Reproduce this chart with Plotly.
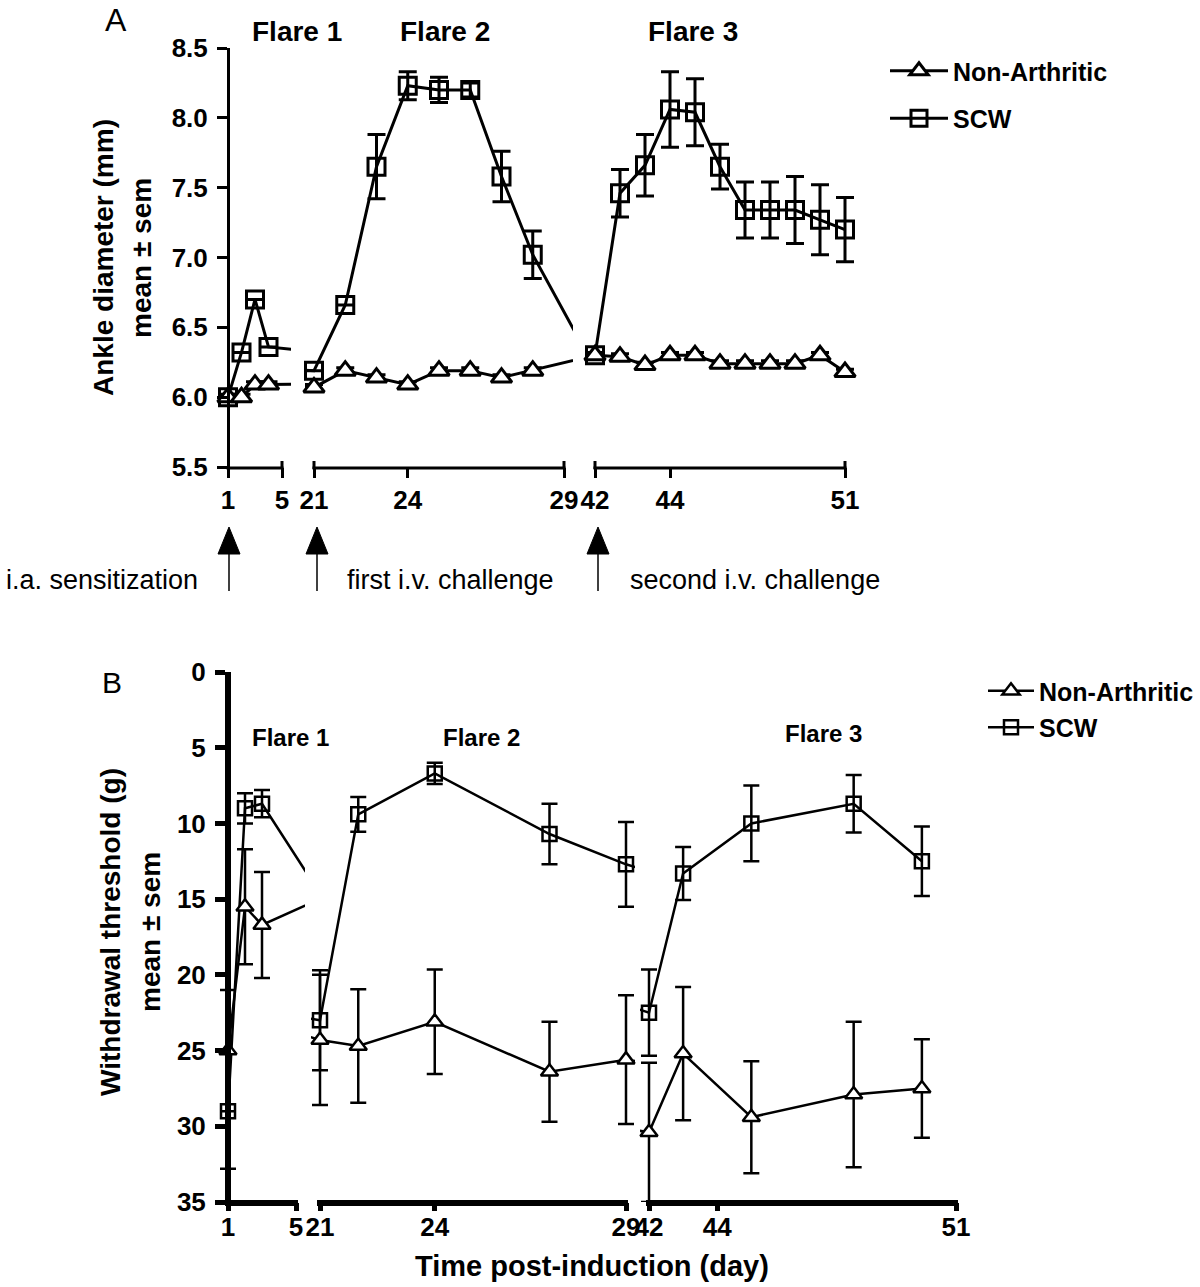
import plotly.graph_objects as go

W, H = 1200, 1287
FONT = "Liberation Sans, Arial, Helvetica, sans-serif"

# ---------------- Panel A: ankle diameter (mm) ----------------
# (includes points measured inside the axis breaks, which are hidden by the breaks)
a_na_days = [1, 2, 3, 4, 10, 21, 22, 23, 24, 25, 26, 27, 28, 30,
             41, 42, 43, 44, 45, 46, 47, 48, 49, 50, 51]
a_na_vals = [6.0, 6.0, 6.09, 6.09, 6.1, 6.07, 6.19, 6.14, 6.09, 6.19, 6.19, 6.14, 6.19, 6.3,
             6.3, 6.29, 6.23, 6.3, 6.3, 6.24, 6.24, 6.24, 6.24, 6.3, 6.18]
a_na_err = [0.02] * 25

a_scw_days = [1, 2, 3, 4, 10, 21, 22, 23, 24, 25, 26, 27, 28, 30,
              41, 42, 43, 44, 45, 46, 47, 48, 49, 50, 51]
a_scw_vals = [6.0, 6.32, 6.7, 6.36, 6.3, 6.19, 6.66, 7.65, 8.23, 8.2, 8.2, 7.58, 7.02, 6.2,
              6.3, 7.46, 7.66, 8.06, 8.04, 7.65, 7.34, 7.34, 7.34, 7.27, 7.2]
a_scw_err = [0, 0, 0, 0, 0, 0, 0, 0.23, 0.1, 0.09, 0.05, 0.18, 0.17, 0,
             0, 0.17, 0.22, 0.27, 0.24, 0.16, 0.2, 0.2, 0.24, 0.25, 0.23]

a_segments = [(1, 5), (21, 29), (41, 51)]
a_tickvals = [[1, 5], [21, 24, 29], [41, 44, 51]]
a_ticktext = [["1", "5"], ["21", "24", "29"], ["42", "44", "51"]]
a_yticks = [5.5, 6.0, 6.5, 7.0, 7.5, 8.0, 8.5]

# ---------------- Panel B: withdrawal threshold (g) ----------------
b_na_days = [1, 2, 3, 8, 21, 22, 24, 27, 29, 42, 43, 45, 48, 50]
b_na_vals = [25.0, 15.5, 16.7, 14.2, 24.3, 24.7, 23.1, 26.4, 25.6, 30.4, 25.2, 29.4, 27.9, 27.5]
b_na_err = [4.0, 3.8, 3.5, 0, 4.3, 3.75, 3.45, 3.3, 4.25, 4.6, 4.4, 3.7, 4.8, 3.25]

b_scw_days = [1, 2, 3, 8, 21, 22, 24, 27, 29, 42, 43, 45, 48, 50]
b_scw_vals = [29.0, 9.0, 8.7, 17.4, 23.0, 9.4, 6.7, 10.7, 12.7, 22.5, 13.3, 10.0, 8.7, 12.5]
b_scw_err = [3.8, 1.0, 0.9, 0, 3.3, 1.15, 0.7, 2.0, 2.8, 2.85, 1.75, 2.5, 1.9, 2.3]

b_segments = [(1, 5), (21, 29), (42, 51)]
b_tickvals = [[1, 5], [21, 24, 29], [42, 44, 51]]
b_ticktext = [["1", "5"], ["21", "24", "29"], ["42", "44", "51"]]
b_yticks = [0, 5, 10, 15, 20, 25, 30, 35]

# ---------------- layout geometry (pixels) ----------------
def px(x):
    return x / W

def py(y):
    return 1 - y / H

A_X = [(228, 282), (314, 564), (595, 845)]
A_Y = (48, 467)
B_X = [(228, 296), (320, 626), (649, 956)]
B_Y = (672, 1202)
PAD = 9  # clipping margin beyond each axis segment

fig = go.Figure()


def masked(days, errs, lo, hi):
    return [e if lo <= d <= hi else 0 for d, e in zip(days, errs)]


def add_panel(series, segments, xaxes, yaxis, lw, legend):
    for k, (lo, hi) in enumerate(segments):
        for s in series:
            fig.add_trace(go.Scatter(
                x=s["days"], y=s["vals"], name=s["name"],
                mode="lines+markers",
                xaxis=xaxes[k], yaxis=yaxis,
                line=dict(color="black", width=lw),
                marker=dict(symbol=s["symbol"], size=s["size"], color=s["fill"],
                            line=dict(color="black", width=lw)),
                error_y=dict(type="data", array=masked(s["days"], s["err"], lo, hi),
                             visible=True, color="black", thickness=lw, width=s["cap"]),
                cliponaxis=False,
                showlegend=(k == 0), legend=legend, legendgroup=legend + s["name"],
                legendrank=s["rank"],
            ))


add_panel([
    dict(days=a_scw_days, vals=a_scw_vals, err=a_scw_err, name="SCW", symbol="square",
         size=17, fill="rgba(0,0,0,0)", cap=9, rank=2),
    dict(days=a_na_days, vals=a_na_vals, err=a_na_err, name="Non-Arthritic",
         symbol="triangle-up", size=18, fill="white", cap=9, rank=1),
], a_segments, ["x", "x2", "x3"], "y", 3, "legend")

add_panel([
    dict(days=b_scw_days, vals=b_scw_vals, err=b_scw_err, name="SCW", symbol="square",
         size=14, fill="rgba(0,0,0,0)", cap=8, rank=2),
    dict(days=b_na_days, vals=b_na_vals, err=b_na_err, name="Non-Arthritic",
         symbol="triangle-up", size=15, fill="white", cap=8, rank=1),
], b_segments, ["x4", "x5", "x6"], "y2", 2.5, "legend2")

tickfont = dict(family=FONT, size=26, color="black", weight="bold")

layout = dict(
    width=W, height=H, margin=dict(l=0, r=0, t=0, b=0, autoexpand=False),
    paper_bgcolor="white", plot_bgcolor="rgba(0,0,0,0)",
    font=dict(family=FONT, color="black"),
)


def seg_axis(pix, rng, anchor, tlen, twidth, tv, tt, standoff):
    scale = (pix[1] - pix[0]) / (rng[1] - rng[0])
    return dict(
        domain=[px(pix[0] - PAD), px(pix[1] + PAD)],
        range=[rng[0] - PAD / scale, rng[1] + PAD / scale], anchor=anchor,
        showline=False, showgrid=False, zeroline=False,
        ticks="outside", ticklen=tlen, tickwidth=twidth, tickcolor="black",
        tickvals=tv, ticktext=tt, tickfont=tickfont, ticklabelstandoff=standoff,
    )


xnames = ["xaxis", "xaxis2", "xaxis3", "xaxis4", "xaxis5", "xaxis6"]
for i in range(3):
    layout[xnames[i]] = seg_axis(A_X[i], a_segments[i], "y", 10, 3,
                                 a_tickvals[i], a_ticktext[i], 0)
    layout[xnames[i + 3]] = seg_axis(B_X[i], b_segments[i], "y2", 8, 5,
                                     b_tickvals[i], b_ticktext[i], -6)

layout["yaxis"] = dict(
    domain=[py(A_Y[1]), py(A_Y[0])], range=[5.5, 8.5], anchor="free", position=px(A_X[0][0]),
    showline=True, linewidth=3, linecolor="black", showgrid=False, zeroline=False,
    ticks="outside", ticklen=10, tickwidth=3, tickcolor="black",
    tickvals=a_yticks, tickformat=".1f", tickfont=tickfont, ticklabelstandoff=4,
)
layout["yaxis2"] = dict(
    domain=[py(B_Y[1]), py(B_Y[0])], range=[35, 0], anchor="free", position=px(B_X[0][0]),
    showline=True, linewidth=6, linecolor="black", showgrid=False, zeroline=False,
    ticks="outside", ticklen=10, tickwidth=5, tickcolor="black",
    tickvals=b_yticks, tickfont=tickfont, ticklabelstandoff=4,
)

legfont = dict(family=FONT, size=25, color="black", weight="bold")
layout["legend"] = dict(x=px(885), y=py(48), xanchor="left", yanchor="top",
                        font=legfont, bgcolor="rgba(0,0,0,0)", tracegroupgap=12,
                        traceorder="grouped", itemwidth=58)
layout["legend2"] = dict(x=px(983), y=py(668), xanchor="left", yanchor="top",
                         font=legfont, bgcolor="rgba(0,0,0,0)", tracegroupgap=1,
                         traceorder="grouped", itemwidth=46)

fig.update_layout(**layout)

# ---------------- broken x-axis lines ----------------
for (x0, x1) in A_X:
    fig.add_shape(type="line", xref="paper", yref="paper",
                  x0=px(x0 - 1.5), x1=px(x1 + 1.5), y0=py(A_Y[1] + 1), y1=py(A_Y[1] + 1),
                  line=dict(color="black", width=3))
    for xe in (x0, x1):
        if xe != A_X[0][0]:
            fig.add_shape(type="line", xref="paper", yref="paper",
                          x0=px(xe), x1=px(xe), y0=py(A_Y[1] - 6), y1=py(A_Y[1] + 2),
                          line=dict(color="black", width=3))
for (x0, x1) in B_X:
    fig.add_shape(type="line", xref="paper", yref="paper",
                  x0=px(x0 - 3), x1=px(x1 + 2), y0=py(B_Y[1] + 1), y1=py(B_Y[1] + 1),
                  line=dict(color="black", width=6))

# ---------------- text annotations ----------------
def text(s, x, y, size, bold=True, angle=0, xanchor="center"):
    fig.add_annotation(
        text=f"<b>{s}</b>" if bold else s, x=px(x), y=py(y), xref="paper", yref="paper",
        showarrow=False, textangle=angle, xanchor=xanchor, yanchor="middle",
        font=dict(family=FONT, size=size, color="black"),
    )

text("A", 116, 20, 32, bold=False)
text("B", 112, 682, 30, bold=False)

text("Flare 1", 297, 32, 28)
text("Flare 2", 445, 32, 28)
text("Flare 3", 693, 32, 28)
text("Flare 1", 290, 737, 24)
text("Flare 2", 481, 737, 24)
text("Flare 3", 823, 733, 24)

text("Ankle diameter (mm)", 103, 258, 28, angle=-90)
text("mean ± sem", 141, 258, 28, angle=-90)
text("Withdrawal threshold (g)", 110, 932, 28, angle=-90)
text("mean ± sem", 150, 932, 28, angle=-90)
text("Time post-induction (day)", 592, 1266, 29)

text("i.a. sensitization", 102, 580, 27, bold=False)
text("first i.v. challenge", 450, 580, 27, bold=False)
text("second i.v. challenge", 755, 580, 27, bold=False)

# arrows marking sensitization / challenges
for ax in [229, 317, 598]:
    tri = (f"M {px(ax - 11)} {py(554)} L {px(ax + 11)} {py(554)} "
           f"L {px(ax)} {py(527)} Z")
    fig.add_shape(type="path", path=tri, xref="paper", yref="paper",
                  fillcolor="black", line=dict(color="black", width=1))
    fig.add_shape(type="line", x0=px(ax), x1=px(ax), y0=py(552), y1=py(591),
                  xref="paper", yref="paper", line=dict(color="black", width=1.5))

fig.write_html("out.html",
               config={"displayModeBar": False},
               post_script="document.body.style.margin='0px';"
                           "document.body.style.overflow='hidden';")
